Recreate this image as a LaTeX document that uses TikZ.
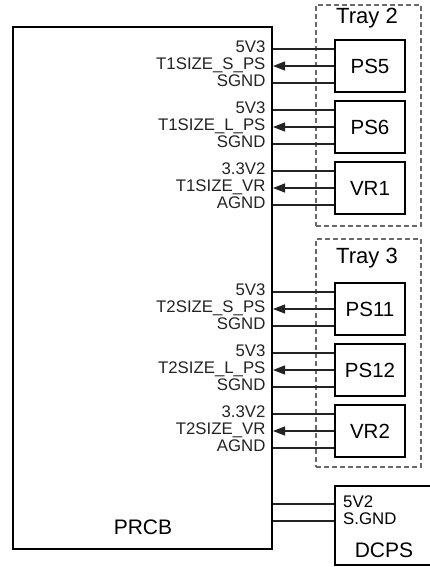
\documentclass[tikz,border=0pt]{standalone}
\usepackage{fontspec}
\setmainfont{Liberation Sans}
\usetikzlibrary{arrows.meta, positioning, calc}
\definecolor{wireblack}{RGB}{35,35,35}
\definecolor{traygray}{RGB}{105,105,105}

\begin{document}
\begin{tikzpicture}[
    x=1pt, y=-1pt,
    box/.style={draw, line width=2pt, minimum width=70pt, minimum height=52pt, inner sep=0pt, font=\fontsize{20.5}{22}\selectfont},
    tray/.style={draw=traygray, dash pattern=on 5pt off 3pt, line width=1.4pt, minimum width=105pt, inner sep=0pt},
    wire/.style={line width=1.1pt, wireblack},
    sig/.style={wire, -{Triangle[length=12pt, width=9pt]}},
    pin/.style={left=7pt, inner sep=0pt, text height=0.72em, text depth=0pt, font=\fontsize{16.8}{17}\selectfont},
    big/.style={font=\fontsize{21}{22}\selectfont}
  ]
  \useasboundingbox (0,0) rectangle (430,567);

  % main board
  \node[draw, line width=2pt, minimum width=259pt, minimum height=522pt, inner sep=0pt] (prcb) at (142.5,288) {};
  \node[big] (prcblbl) at (143,527) {PRCB};

  % trays
  \node[tray, minimum height=221pt] (tray2) at (368.5,115.5) {};
  \node[tray, minimum height=228pt] (tray3) at (368.5,353) {};
  \node[big, font=\fontsize{22}{24}\selectfont] (tray2lbl) at (367,18) {Tray 2};
  \node[big, font=\fontsize{22}{24}\selectfont] (tray3lbl) at (367,258) {Tray 3};

  % sensors
  \node[box] (ps5) at (370,66) {PS5};
  \node[box] (ps6) at (370,127) {PS6};
  \node[box] (vr1) at (370,188) {VR1};
  \node[box] (ps11) at (370,309) {PS11};
  \node[box] (ps12) at (370,370) {PS12};
  \node[box] (vr2) at (370,431) {VR2};

  \foreach \b/\vin/\sense/\gnd in {ps5/5V3/T1SIZE\_S\_PS/SGND, ps6/5V3/T1SIZE\_L\_PS/SGND,
      vr1/3.3V2/T1SIZE\_VR/AGND, ps11/5V3/T2SIZE\_S\_PS/SGND,
      ps12/5V3/T2SIZE\_L\_PS/SGND, vr2/3.3V2/T2SIZE\_VR/AGND} {
    \coordinate (\b-v) at ([yshift=17pt]\b.west);
    \coordinate (\b-g) at ([yshift=-17pt]\b.west);
    \draw[wire] (\b-v) -- (\b-v -| prcb.east) node[pin] {\vin};
    \draw[sig] (\b.west) -- (\b.west -| prcb.east) node[pin] {\sense};
    \draw[wire] (\b-g) -- (\b-g -| prcb.east) node[pin] {\gnd};
  }

  % dc power supply
  \node[draw, line width=2pt, minimum width=97pt, minimum height=79pt, inner sep=0pt] (dcps) at (383.5,525.5) {};
  \coordinate (dcps-v) at (dcps.west |- 0,504);
  \coordinate (dcps-g) at (dcps.west |- 0,521);
  \draw[wire] (dcps-v) -- (dcps-v -| prcb.east);
  \draw[wire] (dcps-g) -- (dcps-g -| prcb.east);
  \node[right=9pt, inner sep=0pt, text height=0.72em, text depth=0pt, font=\fontsize{16.8}{17}\selectfont] (dcpsv) at (dcps-v) {5V2};
  \node[right=9pt, inner sep=0pt, text height=0.72em, text depth=0pt, font=\fontsize{16.8}{17}\selectfont] (dcpsg) at (dcps-g) {S.GND};
  \node[big] (dcpslbl) at (384,550) {DCPS};
\end{tikzpicture}
\end{document}
